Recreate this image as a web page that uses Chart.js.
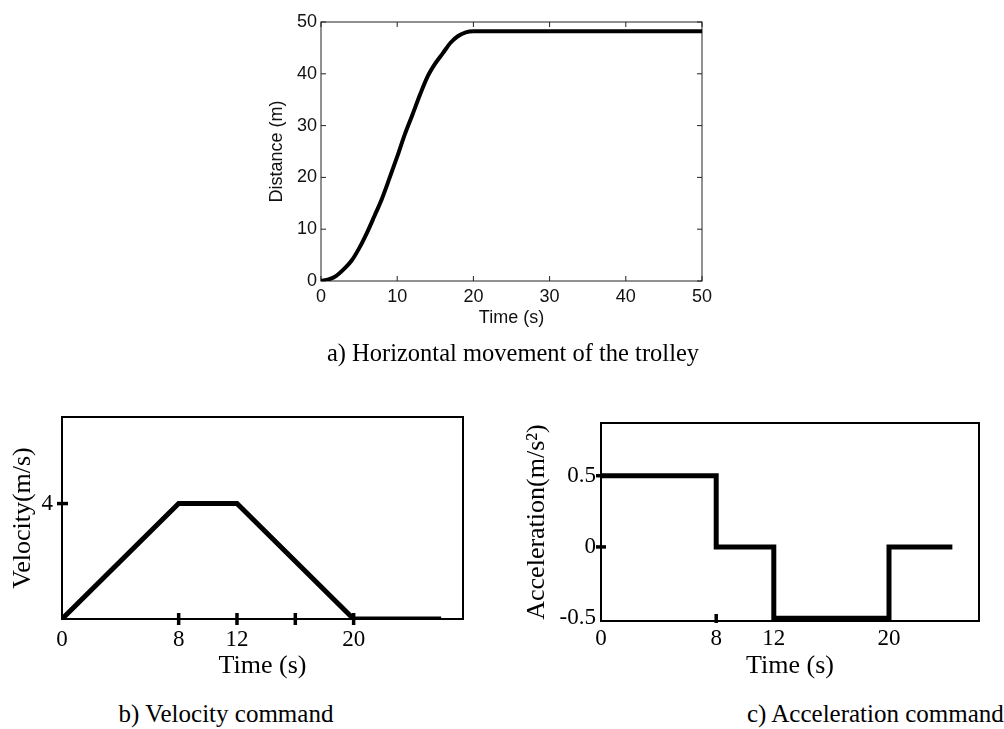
<!DOCTYPE html>
<html><head><meta charset="utf-8">
<script src="https://cdn.jsdelivr.net/npm/chart.js@4.4.0/dist/chart.umd.min.js"></script>
<style>
html,body{margin:0;padding:0;background:#fff;width:1004px;height:729px;overflow:hidden;position:relative}
canvas{position:absolute}
.cap{position:absolute;font-family:'Liberation Serif','Times New Roman',serif;font-size:25px;color:#000;white-space:nowrap;transform:translate(-50%,-50%)}
.capL{position:absolute;font-family:'Liberation Serif','Times New Roman',serif;font-size:25px;color:#000;white-space:nowrap;transform:translate(0,-50%)}
</style></head><body>
<canvas id="cA" width="490" height="345" style="left:230px;top:0px"></canvas>
<canvas id="cB" width="480" height="310" style="left:0px;top:380px"></canvas>
<canvas id="cC" width="514" height="310" style="left:490px;top:380px"></canvas>
<div class="cap" style="left:513px;top:353px;font-size:24.5px">a) Horizontal movement of the trolley</div>
<div class="cap" style="left:226px;top:714px">b) Velocity command</div>
<div class="capL" style="left:747px;top:714px">c) Acceleration command</div>
<script>
// ---- data ----
const distTime  = [0,1,2,3,4,5,6,7,8,9,10,11,12,13,14,15,16,17,18,19,20,50];
const distValue = [0,0.3,1,2.3,3.9,6.3,9.2,12.5,15.9,19.9,24,28.3,32.1,36,39.5,42,44,46,47.3,48,48.2,48.2];
const distTicks = [0,10,20,30,40,50];

const velTime  = [0,8,12,20,26];
const velValue = [0,4,4,0,0];
const velXTickLabels = [0,8,12,20];
const velXTickMarks  = [8,12,16,20];
const velYTickLabels = [4];
const velYTickMarks  = [4];

const accTime  = [0,8,12,20,24.4];
const accValue = [0.5,0,-0.5,0,0];
const accXTickLabels = [0,8,12,20];
const accXTickMarks  = [8];
const accYTickLabels = [0.5,0,-0.5];
const accYTickMarks  = [0.5,0];

// ---- helpers ----
const toXY = (xs, ys) => xs.map((x,i)=>({x, y: ys[i]}));
const SANS = "'Liberation Sans', Arial, sans-serif";
const SERIF = "'Liberation Serif', 'Times New Roman', serif";

const framePlugin = {
  id: 'frame',
  beforeDatasetsDraw(chart, args, o) {
    const {ctx, chartArea: a, scales} = chart;
    ctx.save();
    ctx.strokeStyle = o.color;
    ctx.lineWidth = o.boxWidth;
    ctx.strokeRect(a.left, a.top, a.right - a.left, a.bottom - a.top);
    ctx.lineWidth = o.tickWidth;
    ctx.lineCap = 'butt';
    (o.xMarks || []).forEach(v => {
      const px = scales.x.getPixelForValue(v);
      ctx.beginPath(); ctx.moveTo(px, a.bottom - o.xIn); ctx.lineTo(px, a.bottom + o.xOut); ctx.stroke();
      if (o.mirror) { ctx.beginPath(); ctx.moveTo(px, a.top); ctx.lineTo(px, a.top + o.xIn); ctx.stroke(); }
    });
    (o.yMarks || []).forEach(v => {
      const py = scales.y.getPixelForValue(v);
      ctx.beginPath(); ctx.moveTo(a.left - o.yOut, py); ctx.lineTo(a.left + o.yIn, py); ctx.stroke();
      if (o.mirror) { ctx.beginPath(); ctx.moveTo(a.right, py); ctx.lineTo(a.right - o.yIn, py); ctx.stroke(); }
    });
    ctx.restore();
  }
};

function axis(opts) {
  return Object.assign({
    type: 'linear',
    grid: {display: false, drawTicks: false},
    border: {display: false},
  }, opts);
}

// ---- chart a ----
new Chart(document.getElementById('cA'), {
  type: 'line',
  data: {datasets: [{data: toXY(distTime, distValue), borderColor: '#000', borderWidth: 4,
    pointRadius: 0, cubicInterpolationMode: 'monotone', fill: false}]},
  options: {
    responsive: false, animation: false,
    layout: {padding: {left: 31, right: 18, top: 22, bottom: 14}},
    plugins: {legend: {display: false}, tooltip: {enabled: false},
      frame: {color: '#222', boxWidth: 1, tickWidth: 1, xMarks: distTicks, yMarks: distTicks,
              xIn: 5, xOut: 0, yIn: 5, yOut: 0, mirror: true}},
    scales: {
      x: axis({min: 0, max: 50, afterFit: s => { s.height = 50; },
        afterBuildTicks: s => { s.ticks = distTicks.map(v => ({value: v})); },
        ticks: {color: '#111', padding: 5, font: {family: SANS, size: 18}, maxRotation: 0},
        title: {display: true, text: 'Time (s)', color: '#111', font: {family: SANS, size: 18},
                padding: {top: 0, bottom: 2}}}),
      y: axis({min: 0, max: 50, afterFit: s => { s.width = 60; },
        afterBuildTicks: s => { s.ticks = distTicks.map(v => ({value: v})); },
        ticks: {color: '#111', padding: 4, font: {family: SANS, size: 18}},
        title: {display: true, text: 'Distance (m)', color: '#111', font: {family: SANS, size: 18},
                padding: {top: 5, bottom: 0}}})
    }
  },
  plugins: [framePlugin]
});

// ---- chart b ----
new Chart(document.getElementById('cB'), {
  type: 'line',
  data: {datasets: [{data: toXY(velTime, velValue), borderColor: '#000', borderWidth: 5,
    pointRadius: 0, fill: false, borderJoinStyle: 'miter'}]},
  options: {
    responsive: false, animation: false,
    layout: {padding: {left: 2, right: 17, top: 37, bottom: 8}},
    plugins: {legend: {display: false}, tooltip: {enabled: false},
      frame: {color: '#000', boxWidth: 2, tickWidth: 3.5, xMarks: velXTickMarks, yMarks: velYTickMarks,
              xIn: 6, xOut: 6, yIn: 6, yOut: 5, mirror: false}},
    scales: {
      x: axis({min: 0, max: 27.5, afterFit: s => { s.height = 63; },
        afterBuildTicks: s => { s.ticks = velXTickLabels.map(v => ({value: v})); },
        ticks: {color: '#000', padding: 7, font: {family: SERIF, size: 23}, maxRotation: 0},
        title: {display: true, text: 'Time (s)', color: '#000', font: {family: SERIF, size: 26},
                padding: {top: 0, bottom: 0}}}),
      y: axis({min: 0, max: 7, afterFit: s => { s.width = 60; },
        afterBuildTicks: s => { s.ticks = velYTickLabels.map(v => ({value: v})); },
        ticks: {color: '#000', padding: 9, font: {family: SERIF, size: 23}},
        title: {display: true, text: 'Velocity(m/s)', color: '#000', font: {family: SERIF, size: 26},
                padding: {top: 6, bottom: 0}}})
    }
  },
  plugins: [framePlugin]
});

// ---- chart c ----
new Chart(document.getElementById('cC'), {
  type: 'line',
  data: {datasets: [{data: toXY(accTime, accValue), borderColor: '#000', borderWidth: 5,
    pointRadius: 0, fill: false, stepped: true, borderJoinStyle: 'miter'}]},
  options: {
    responsive: false, animation: false,
    layout: {padding: {left: 25, right: 25, top: 43, bottom: 6}},
    plugins: {legend: {display: false}, tooltip: {enabled: false},
      frame: {color: '#000', boxWidth: 2, tickWidth: 3.5, xMarks: accXTickMarks, yMarks: accYTickMarks,
              xIn: 7, xOut: 2, yIn: 5, yOut: 5, mirror: false}},
    scales: {
      x: axis({min: 0, max: 26.25, afterFit: s => { s.height = 63; },
        afterBuildTicks: s => { s.ticks = accXTickLabels.map(v => ({value: v})); },
        ticks: {color: '#000', padding: 4, font: {family: SERIF, size: 23}, maxRotation: 0},
        title: {display: true, text: 'Time (s)', color: '#000', font: {family: SERIF, size: 26},
                padding: {top: 0, bottom: 2}}}),
      y: axis({min: -0.52, max: 0.87, afterFit: s => { s.width = 86; },
        afterBuildTicks: s => { s.ticks = accYTickLabels.map(v => ({value: v})); },
        ticks: {color: '#000', padding: 5, font: {family: SERIF, size: 23}},
        title: {display: true, text: 'Acceleration(m/s²)', color: '#000', font: {family: SERIF, size: 26},
                padding: {top: 7, bottom: 0}}})
    }
  },
  plugins: [framePlugin]
});
</script>
</body></html>
